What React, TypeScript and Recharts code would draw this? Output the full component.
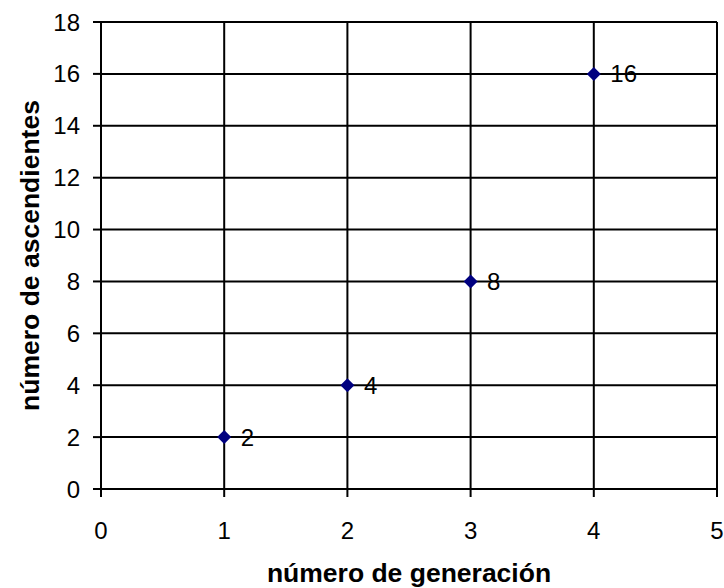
import {
  ScatterChart, Scatter, XAxis, YAxis, CartesianGrid, LabelList, Label,
} from 'recharts'

// generación -> ascendientes
const generaciones = [1, 2, 3, 4]
const ascendientes = [2, 4, 8, 16]
const xTicks = [0, 1, 2, 3, 4, 5]
const yTicks = [0, 2, 4, 6, 8, 10, 12, 14, 16, 18]

const data = generaciones.map((g, i) => ({ x: g, y: ascendientes[i] }))

const FONT = 'Arial, "Liberation Sans", sans-serif'

const Diamond = (p: any) => {
  const { cx, cy } = p
  const r = 7
  return (
    <polygon
      points={`${cx},${cy - r} ${cx + r},${cy} ${cx},${cy + r} ${cx - r},${cy}`}
      fill="#000080"
    />
  )
}

export default function App() {
  return (
    <div style={{position:'absolute',left:0,top:0,background:'#fff'}}>
      <ScatterChart width={724} height={588}
                    margin={{top:22, right:7, bottom:0, left:0}}>
        <CartesianGrid stroke="#000" strokeWidth={2}
                       horizontalValues={yTicks} verticalValues={xTicks} />
        <XAxis type="number" dataKey="x" domain={[0, 5]} ticks={xTicks}
               height={99} tickSize={8} tickMargin={25}
               stroke="#000" strokeWidth={2}
               tick={{fill:'#000', fontSize:24, fontFamily:FONT}}>
          <Label value="número de generación" position="insideBottom" offset={6}
                 style={{fill:'#000', fontSize:26.5, fontWeight:'bold', fontFamily:FONT}} />
        </XAxis>
        <YAxis type="number" dataKey="y" domain={[0, 18]} ticks={yTicks}
               width={101} tickSize={8} tickMargin={13}
               stroke="#000" strokeWidth={2}
               tick={{fill:'#000', fontSize:24, fontFamily:FONT}}>
          <Label value="número de ascendientes" angle={-90} position="insideLeft"
                 offset={30}
                 style={{fill:'#000', fontSize:26.5, fontWeight:'bold', fontFamily:FONT,
                         textAnchor:'middle'}} />
        </YAxis>
        <Scatter data={data} shape={Diamond} isAnimationActive={false}>
          <LabelList dataKey="y" position="right" offset={12}
                     style={{fill:'#000', fontSize:24, fontFamily:FONT}} />
        </Scatter>
      </ScatterChart>
    </div>
  )
}
